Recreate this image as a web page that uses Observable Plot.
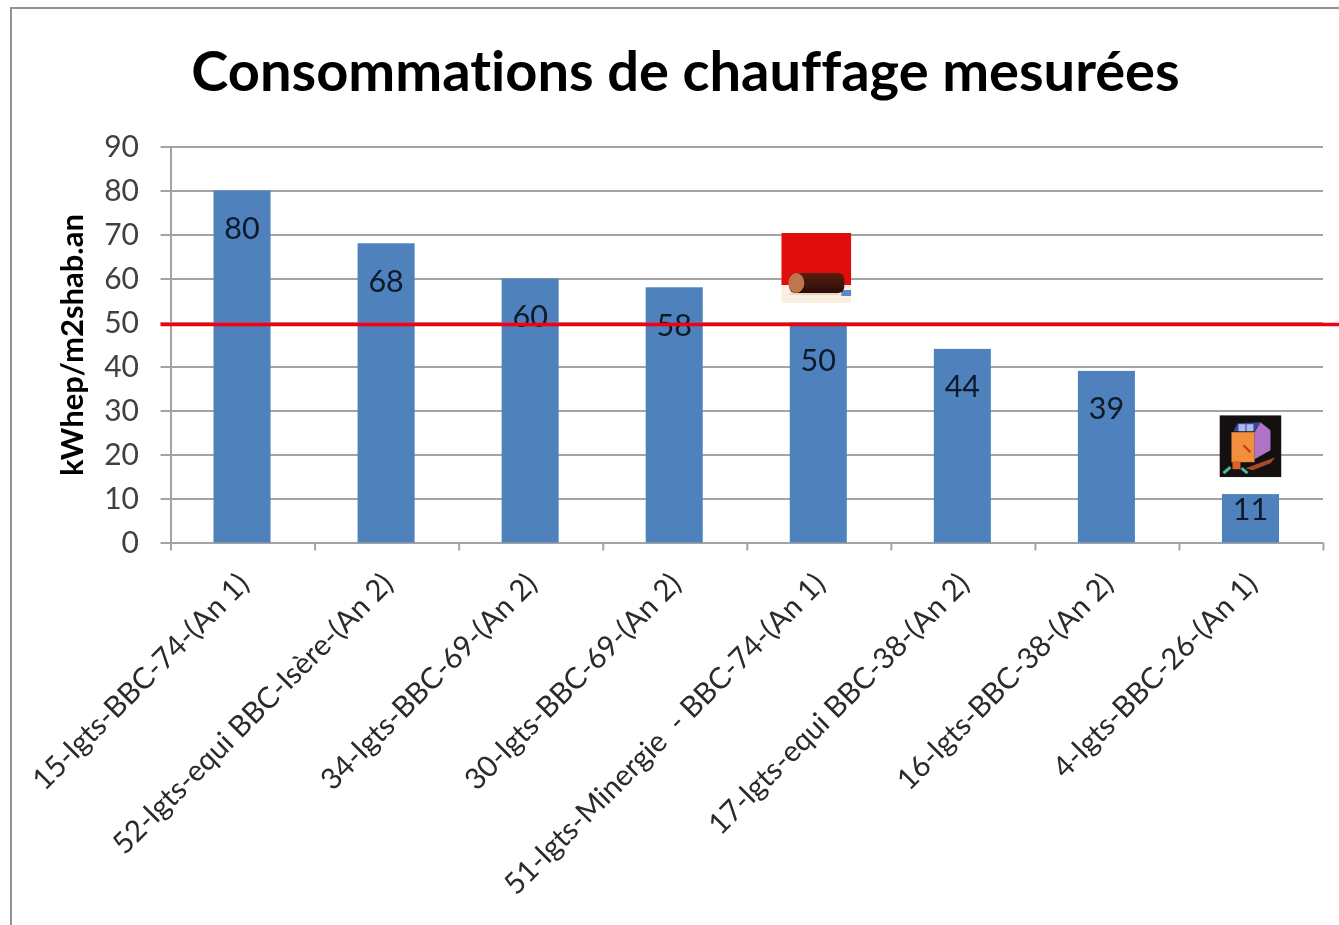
<!DOCTYPE html>
<html lang="fr">
<head>
<meta charset="utf-8">
<title>Consommations de chauffage mesurées</title>
<script src="https://cdn.jsdelivr.net/npm/d3@7"></script>
<script src="https://cdn.jsdelivr.net/npm/@observablehq/plot@0.6"></script>
<style>
  html, body { margin: 0; padding: 0; background: #fff; overflow: hidden; }
  #wrap { position: relative; width: 1339px; height: 925px; overflow: hidden; filter: blur(0.4px); background: #fff; }
  #frame { position: absolute; left: 10px; top: 7px; width: 1400px; height: 1000px; border: 2px solid #929292; box-sizing: border-box; }
  #title { position: absolute; left: 0; width: 1371px; top: 34px; text-align: center; font: 700 56px Lato, sans-serif; font-variant-ligatures: none; color: #000; line-height: 72px; white-space: nowrap; }
  #chart { position: absolute; left: 0; top: 0; }
  #chart svg { display: block; }
</style>
</head>
<body>
<div id="wrap">
  <div id="frame"></div>
  <div id="title">Consommations de chauffage mesurées</div>
  <div id="chart"></div>
</div>
<script>
const programmes = [
  "15-lgts-BBC-74-(An 1)",
  "52-lgts-equi BBC-Isère-(An 2)",
  "34-lgts-BBC-69-(An 2)",
  "30-lgts-BBC-69-(An 2)",
  "51-lgts-Minergie  - BBC-74-(An 1)",
  "17-lgts-equi BBC-38-(An 2)",
  "16-lgts-BBC-38-(An 2)",
  "4-lgts-BBC-26-(An 1)"
];
const consommations = [80, 68, 60, 58, 50, 44, 39, 11];
const yTicks = [0, 10, 20, 30, 40, 50, 60, 70, 80, 90];
const seuil = 50;

const logSvg = `<svg xmlns="http://www.w3.org/2000/svg" width="70" height="70" viewBox="0 0 70 70">
<defs>
<filter id="b" x="-5%" y="-5%" width="110%" height="110%"><feGaussianBlur stdDeviation="0.6"/></filter>
<linearGradient id="g" x1="0" y1="0" x2="0" y2="1"><stop offset="0" stop-color="#5a2012"/><stop offset="0.6" stop-color="#3c130a"/><stop offset="1" stop-color="#2c0d06"/></linearGradient>
</defs>
<g filter="url(#b)">
<rect width="70" height="70" fill="#f8efe0"/>
<rect y="60" x="8" width="50" height="2" fill="#e6d8bf"/>
<rect width="70" height="52" fill="#e00a0a"/>
<rect x="60" y="57" width="10" height="6" fill="#5b86c6"/>
<rect x="8" y="40" width="55" height="20" rx="6" fill="url(#g)"/>
<ellipse cx="15" cy="50" rx="8" ry="10" fill="#c0754b"/>
</g>
</svg>`;
const houseSvg = `<svg xmlns="http://www.w3.org/2000/svg" width="62" height="62" viewBox="0 0 62 62">
<defs><filter id="b" x="-5%" y="-5%" width="110%" height="110%"><feGaussianBlur stdDeviation="0.5"/></filter></defs>
<rect width="62" height="62" fill="#151010"/>
<g filter="url(#b)">
<polygon points="14,16 18,8 41,7 35,16" fill="#36489e"/>
<rect x="19" y="9" width="7" height="7" fill="#a9bce8"/>
<rect x="27" y="9" width="7" height="7" fill="#a9bce8"/>
<polygon points="35,17 41,7 51,15 51,35 35,44" fill="#b073c8"/>
<rect x="12" y="17" width="23" height="30" fill="#f0903e"/>
<rect x="13" y="46" width="8" height="8" fill="#d9642a"/>
<polygon points="26,53 56,42 51,48 33,55" fill="#a8482a"/>
<path d="M24 30 L31 37" stroke="#c8321e" stroke-width="2"/>
<path d="M4 58 L11 52 M22 53 L28 58" stroke="#53b79b" stroke-width="3"/>
</g>
</svg>`;
const toUri = (s) => "data:image/svg+xml;charset=utf-8," + encodeURIComponent(s);

const barData = programmes.map((programme, i) => ({programme, valeur: consommations[i]}));
const gris = "#a3a3a3";
const label = {x: "programme", y: "valeur", text: "valeur", fontSize: 30.5, fontFamily: "Lato, sans-serif", fill: "#0c1a2c", dx: -1};

const chart = Plot.plot({
  width: 1339,
  height: 925,
  marginLeft: 170.5,
  marginRight: 16,
  marginTop: 146.5,
  marginBottom: 382.5,
  style: {background: "transparent"},
  x: {type: "band", domain: programmes, paddingInner: 0.604, paddingOuter: 0.302, round: false, label: null},
  y: {domain: [0, 90], ticks: yTicks, label: null},
  marks: [
    Plot.ruleY(yTicks, {stroke: gris, strokeWidth: 2, insetLeft: -10}),
    Plot.ruleX([programmes[0]], {y1: 0, y2: 90, stroke: gris, strokeWidth: 2, dx: -72}),
    Plot.axisX({tickSize: 8, stroke: gris, strokeWidth: 2, text: null, dx: -72, strokeOpacity: 1, label: null}),
    Plot.axisX([programmes[7]], {tickSize: 8, stroke: gris, strokeWidth: 2, text: null, dx: 72, label: null}),
    Plot.axisY({ticks: yTicks, tickSize: 0, tickPadding: 32, fontSize: 30, fontFamily: "Lato, sans-serif", color: "#404040", label: null}),
    Plot.axisX({tickSize: 0, tickPadding: 36, tickRotate: -45, fontSize: 29.4, fontFamily: "Lato, sans-serif", color: "#2a2a2a", label: null, lineWidth: Infinity, textOverflow: null, dx: 1}),
    Plot.barY(barData, {x: "programme", y: "valeur", fill: "#4f81bd", dx: -0.5}),
    Plot.text(barData.slice(0, -1), {...label, dy: 38}),
    Plot.text(barData.slice(-1), {...label, dy: 16}),
    Plot.ruleY([seuil], {stroke: "#f5000f", strokeWidth: 3.5, insetLeft: -10, insetRight: -16, dy: 1.5}),
    Plot.image([{programme: programmes[4], valeur: 62.5}], {x: "programme", y: "valeur", src: toUri(logSvg), width: 70, height: 70, dx: -3}),
    Plot.image([{programme: programmes[7], valeur: 22}], {x: "programme", y: "valeur", src: toUri(houseSvg), width: 62, height: 62, dx: -1}),
    Plot.text(["kWhep/m2shab.an"], {frameAnchor: "left", dx: -98, rotate: -90, y: [45], textAnchor: "middle", fontSize: 31, fontWeight: 700, fontFamily: "Lato, sans-serif", fill: "#000"})
  ]
});
document.getElementById("chart").append(chart);
</script>
</body>
</html>
